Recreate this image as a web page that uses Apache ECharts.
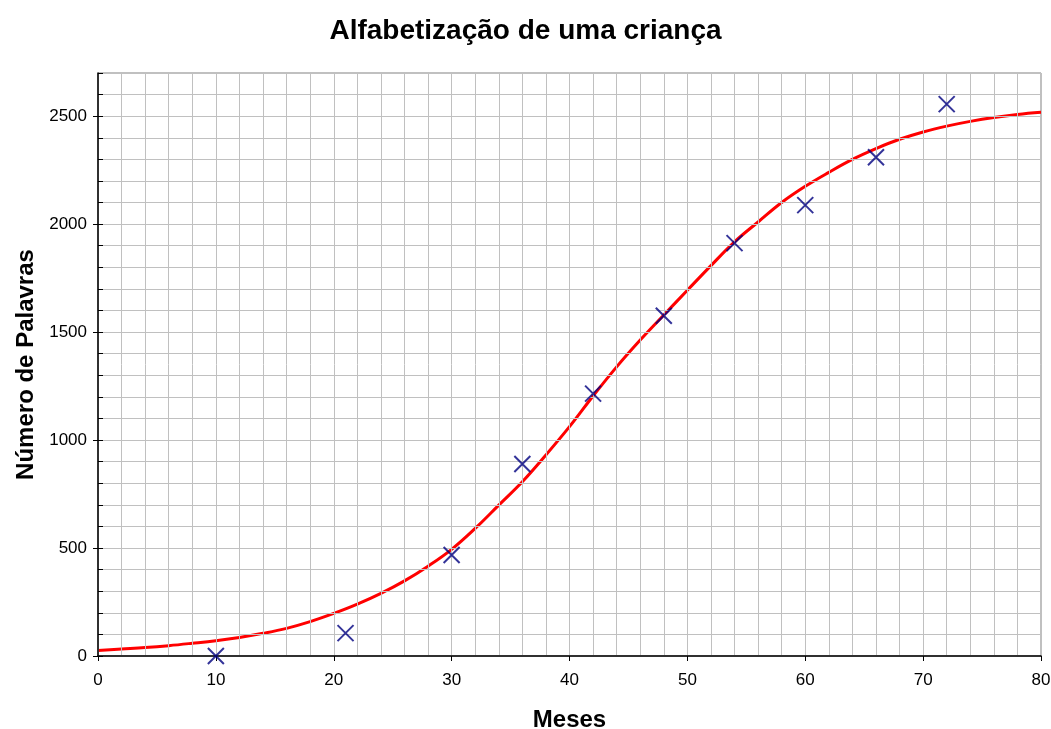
<!DOCTYPE html>
<html>
<head>
<meta charset="utf-8">
<script src="https://cdn.jsdelivr.net/npm/echarts@6/dist/echarts.min.js"></script>
<style>
  html, body { margin: 0; padding: 0; background: #fff; }
  #chart { width: 1051px; height: 729px; }
</style>
</head>
<body>
<div id="chart"></div>
<script>
  // observações (meses, palavras)
  const obsMeses = [10, 21, 30, 36, 42, 48, 54, 60, 66, 72]
  const obsPalavras = [0, 106, 468, 889, 1215, 1576, 1912, 2088, 2310, 2556]

  // curva ajustada
  const curvaMeses = [0, 2, 4, 6, 8, 10, 12, 14, 16, 18, 20, 22, 24, 26, 28, 30, 32, 34, 36, 38, 40,
    42, 44, 46, 48, 50, 52, 54, 56, 58, 60, 62, 64, 66, 68, 70, 72, 74, 76, 78, 80]
  const curvaPalavras = [25, 32, 39, 48, 59, 71, 86, 105, 128, 159, 197, 240, 290, 348, 416, 494, 591, 699, 807, 931, 1062,
    1204, 1339, 1463, 1579, 1694, 1808, 1918, 2010, 2100, 2175, 2240, 2300, 2350, 2393, 2427, 2454, 2476, 2494, 2508, 2518]

  // marcas principais do eixo y
  const yMarcas = [0, 500, 1000, 1500, 2000, 2500]

  const chart = echarts.init(document.getElementById('chart'))
  const font = 'Arial, "Liberation Sans", sans-serif'

  const option = {
    animation: false,
    title: {
      text: 'Alfabetização de uma criança',
      left: 'center',
      top: 12,
      textStyle: { fontFamily: font, fontSize: 28, fontWeight: 'bold', color: '#000' }
    },
    grid: {
      left: 98, right: 10, top: 73, bottom: 73,
      outerBoundsMode: 'none',
      containLabel: false,
      show: true,
      borderColor: '#808080',
      borderWidth: 1
    },
    xAxis: [{
      type: 'value',
      min: 0, max: 80, interval: 10,
      name: 'Meses',
      nameLocation: 'middle',
      nameGap: 52,
      nameTextStyle: { fontFamily: font, fontSize: 24, fontWeight: 'bold', color: '#000' },
      axisLine: { lineStyle: { color: '#000', width: 1.5 } },
      axisTick: { show: true, inside: false, length: 5, lineStyle: { color: '#000' } },
      minorTick: { show: false },
      axisLabel: { fontFamily: font, fontSize: 17, color: '#000', margin: 16 },
      splitLine: { show: true, lineStyle: { color: '#c0c0c0' } },
      minorSplitLine: { show: true, lineStyle: { color: '#c0c0c0' } },
      z: 3
    }, {
      type: 'value',
      position: 'bottom',
      min: 0, max: 80, interval: 10,
      axisLine: { show: false },
      axisTick: { show: true, inside: true, length: 5, lineStyle: { color: '#000' } },
      minorTick: { show: true, splitNumber: 5, length: 5, lineStyle: { color: '#000' } },
      axisLabel: { show: false },
      splitLine: { show: false }
    }],
    yAxis: [{
      type: 'value',
      min: 0, max: 2700, interval: 100,
      name: 'Número de Palavras',
      nameLocation: 'middle',
      nameGap: 60,
      nameTextStyle: { fontFamily: font, fontSize: 24, fontWeight: 'bold', color: '#000' },
      axisLine: { show: true, lineStyle: { color: '#000', width: 1.5 } },
      axisTick: { show: true, inside: true, length: 5, lineStyle: { color: '#000' } },
      axisLabel: {
        fontFamily: font, fontSize: 17, color: '#000', margin: 11,
        formatter: v => (v % 500 === 0 ? String(v) : '')
      },
      splitLine: { show: true, lineStyle: { color: '#c0c0c0' } },
      z: 3
    }, {
      type: 'value',
      position: 'left',
      min: 0, max: 2700, interval: 500,
      axisLine: { show: false },
      axisTick: { show: true, inside: false, length: 5, customValues: yMarcas, lineStyle: { color: '#000' } },
      axisLabel: { show: false },
      splitLine: { show: false }
    }],
    series: [{
      name: 'curva',
      type: 'line',
      xAxisIndex: 0,
      yAxisIndex: 0,
      data: curvaMeses.map((m, i) => [m, curvaPalavras[i]]),
      smooth: 0.4,
      showSymbol: false,
      lineStyle: { color: '#ff0000', width: 3 },
      z: 2
    }, {
      name: 'observado',
      type: 'scatter',
      xAxisIndex: 0,
      yAxisIndex: 0,
      data: obsMeses.map((m, i) => [m, obsPalavras[i]]),
      symbol: 'path://M0,0L10,10M10,0L0,10',
      symbolSize: 16,
      itemStyle: { color: 'none', borderColor: '#000080', borderWidth: 2 },
      z: 4
    }]
  }
  chart.setOption(option)
</script>
</body>
</html>
